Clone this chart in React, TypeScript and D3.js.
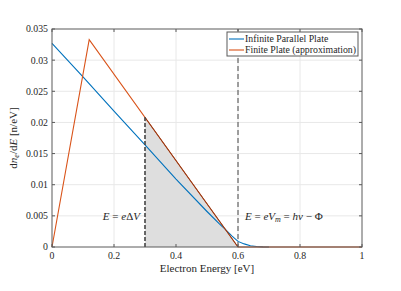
import { useRef, useEffect } from 'react';
import * as d3 from 'd3';

// Infinite parallel plate (blue)
const blueE = [0, 0.1, 0.2, 0.3, 0.4, 0.5, 0.54, 0.56, 0.58, 0.6, 0.62, 0.64, 0.66, 0.68, 0.7];
const blueV = [0.0327, 0.0273, 0.0218, 0.0164, 0.0109, 0.0057, 0.0037, 0.0028, 0.0018, 0.0009, 0.0005, 0.0002, 0.00008, 0.00002, 0];
// Finite plate approximation (orange)
const orangeE = [0, 0.12, 0.6, 1];
const orangeV = [0, 0.0333, 0, 0];
const shadeFrom = 0.3;
const shadeTo = 0.6;

const xTicks = [0, 0.2, 0.4, 0.6, 0.8, 1];
const yTicks = [0, 0.005, 0.01, 0.015, 0.02, 0.025, 0.03, 0.035];
const legendLabels = ['Infinite Parallel Plate', 'Finite Plate (approximation)'];
const COLORS = ['#0072BD', '#D95319'];

const FONT = "'Liberation Serif', 'DejaVu Serif', serif";

export default function App() {
  const svgRef = useRef<SVGSVGElement>(null);

  useEffect(() => {
    const W = 401, H = 291;
    const m = { top: 29, right: 39, bottom: 44, left: 52 };
    const iw = W - m.left - m.right;
    const ih = H - m.top - m.bottom;

    const x = d3.scaleLinear().domain([0, 1]).range([0, iw]);
    const y = d3.scaleLinear().domain([0, 0.035]).range([ih, 0]);

    const svg = d3.select(svgRef.current);
    svg.selectAll('*').remove();
    svg.append('rect').attr('width', W).attr('height', H).attr('fill', '#fff');
    const g = svg.append('g').attr('transform', `translate(${m.left},${m.top})`)
      .style('font-family', FONT);

    // grid
    g.append('g').selectAll('line').data(xTicks.slice(1, -1)).join('line')
      .attr('x1', d => x(d)).attr('x2', d => x(d)).attr('y1', 0).attr('y2', ih)
      .attr('stroke', '#e8e8e8');
    g.append('g').selectAll('line').data(yTicks.slice(1, -1)).join('line')
      .attr('y1', d => y(d)).attr('y2', d => y(d)).attr('x1', 0).attr('x2', iw)
      .attr('stroke', '#e8e8e8');

    const orangeAt = (e: number) => {
      for (let i = 1; i < orangeE.length; i++) {
        if (e <= orangeE[i]) {
          const t = (e - orangeE[i - 1]) / (orangeE[i] - orangeE[i - 1]);
          return orangeV[i - 1] + t * (orangeV[i] - orangeV[i - 1]);
        }
      }
      return 0;
    };

    // shaded area
    const line = d3.line<[number, number]>().x(d => x(d[0])).y(d => y(d[1]));
    const patch: [number, number][] = [[shadeFrom, 0], [shadeFrom, orangeAt(shadeFrom)], [shadeTo, 0]];
    g.append('path').attr('d', line(patch) + 'Z').attr('fill', '#dedede').attr('stroke', 'none');

    g.append('path').datum(blueE.map((e, i) => [e, blueV[i]] as [number, number]))
      .attr('d', line).attr('fill', 'none').attr('stroke', COLORS[0]).attr('stroke-width', 1.1);
    g.append('path').datum(orangeE.map((e, i) => [e, orangeV[i]] as [number, number]))
      .attr('d', line).attr('fill', 'none').attr('stroke', COLORS[1]).attr('stroke-width', 1.1);

    // patch edge over the orange line
    g.append('line')
      .attr('x1', x(shadeFrom)).attr('y1', y(orangeAt(shadeFrom)))
      .attr('x2', x(shadeTo)).attr('y2', y(0))
      .attr('stroke', '#8a3a1c').attr('stroke-width', 1);

    // vertical markers
    g.append('line')
      .attr('x1', x(shadeFrom)).attr('x2', x(shadeFrom)).attr('y1', y(0)).attr('y2', y(orangeAt(shadeFrom)))
      .attr('stroke', '#444').attr('stroke-width', 1.6).attr('stroke-dasharray', '4,2');
    g.append('line')
      .attr('x1', x(shadeTo)).attr('x2', x(shadeTo)).attr('y1', y(0)).attr('y2', 0)
      .attr('stroke', '#333').attr('stroke-width', 0.9).attr('stroke-dasharray', '5,3');

    // axes box and ticks
    g.append('rect').attr('width', iw).attr('height', ih)
      .attr('fill', 'none').attr('stroke', '#5a5a5a').attr('stroke-width', 1);
    const tk = 3;
    xTicks.forEach(t => {
      g.append('line').attr('x1', x(t)).attr('x2', x(t)).attr('y1', ih).attr('y2', ih - tk).attr('stroke', '#5a5a5a');
      g.append('line').attr('x1', x(t)).attr('x2', x(t)).attr('y1', 0).attr('y2', tk).attr('stroke', '#5a5a5a');
      g.append('text').attr('x', x(t)).attr('y', ih + 12).attr('text-anchor', 'middle')
        .attr('font-size', 9.8).attr('fill', '#262626').text(d3.format('~g')(t));
    });
    yTicks.forEach(t => {
      g.append('line').attr('y1', y(t)).attr('y2', y(t)).attr('x1', 0).attr('x2', tk).attr('stroke', '#5a5a5a');
      g.append('line').attr('y1', y(t)).attr('y2', y(t)).attr('x1', iw).attr('x2', iw - tk).attr('stroke', '#5a5a5a');
      g.append('text').attr('x', -4).attr('y', y(t)).attr('dy', '0.35em').attr('text-anchor', 'end')
        .attr('font-size', 9.8).attr('fill', '#262626').text(d3.format('~g')(t));
    });

    // axis labels
    g.append('text').attr('x', iw / 2).attr('y', ih + 25).attr('text-anchor', 'middle')
      .attr('font-size', 11).attr('fill', '#262626').text('Electron Energy [eV]');
    const yl = g.append('text').attr('transform', `translate(-35,${ih / 2}) rotate(-90)`)
      .attr('text-anchor', 'middle').attr('font-size', 11).attr('fill', '#262626');
    yl.append('tspan').text('d');
    yl.append('tspan').attr('font-style', 'italic').text('n');
    yl.append('tspan').attr('font-style', 'italic').attr('font-size', 8).attr('dy', 2).text('e');
    yl.append('tspan').attr('dy', -2).text('/d');
    yl.append('tspan').attr('font-style', 'italic').text('E');
    yl.append('tspan').text(' [n/eV]');

    // annotations
    const a1 = g.append('text').attr('x', x(shadeFrom) - 5).attr('y', y(0.005)).attr('dy', '0.35em')
      .attr('text-anchor', 'end').attr('font-size', 11).attr('fill', '#262626');
    a1.append('tspan').attr('font-style', 'italic').text('E');
    a1.append('tspan').text(' = ');
    a1.append('tspan').attr('font-style', 'italic').text('e');
    a1.append('tspan').text('Δ');
    a1.append('tspan').attr('font-style', 'italic').text('V');

    const a2 = g.append('text').attr('x', x(shadeTo) + 7).attr('y', y(0.005)).attr('dy', '0.35em')
      .attr('font-size', 11).attr('fill', '#262626');
    a2.append('tspan').attr('font-style', 'italic').text('E');
    a2.append('tspan').text(' = ');
    a2.append('tspan').attr('font-style', 'italic').text('eV');
    a2.append('tspan').attr('font-style', 'italic').attr('font-size', 8).attr('dy', 2).text('m');
    a2.append('tspan').attr('dy', -2).text(' = ');
    a2.append('tspan').attr('font-style', 'italic').text('hν');
    a2.append('tspan').text(' − Φ');

    // legend
    const lg = g.append('g').attr('transform', `translate(${iw - 135},3)`);
    lg.append('rect').attr('width', 131).attr('height', 24)
      .attr('fill', '#fff').attr('stroke', '#5a5a5a').attr('stroke-width', 1);
    legendLabels.forEach((lab, i) => {
      const yy = 7 + i * 11;
      lg.append('line').attr('x1', 2).attr('x2', 17).attr('y1', yy).attr('y2', yy)
        .attr('stroke', COLORS[i]).attr('stroke-width', 1.1);
      lg.append('text').attr('x', 18).attr('y', yy).attr('dy', '0.35em')
        .attr('font-size', 9.8).attr('fill', '#262626').text(lab);
    });
  }, []);

  return (
    <div style={{ position: 'fixed', left: 0, top: 0, width: 401, height: 291 }}>
      <svg ref={svgRef} width={401} height={291} style={{ display: 'block' }} />
    </div>
  );
}
